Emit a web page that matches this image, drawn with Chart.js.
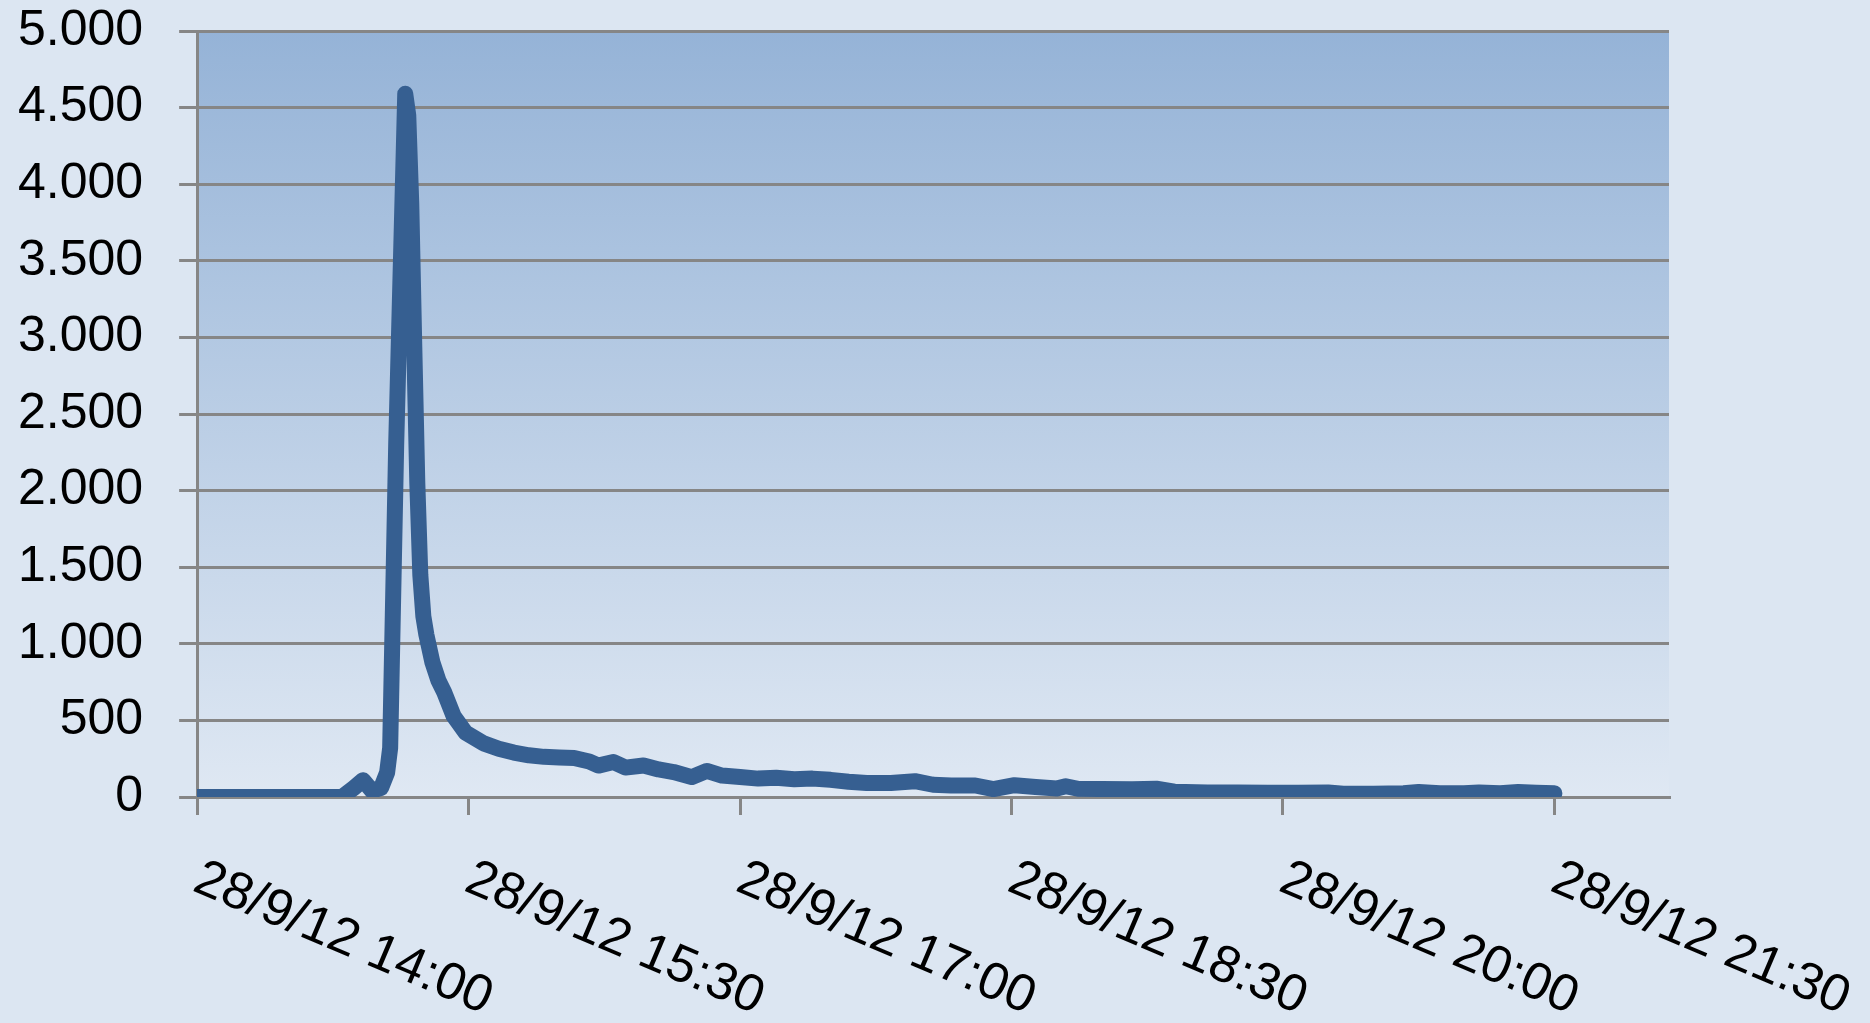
<!DOCTYPE html>
<html>
<head>
<meta charset="utf-8">
<script src="https://cdn.jsdelivr.net/npm/chart.js@4.4.1/dist/chart.umd.min.js"></script>
<style>
html,body{margin:0;padding:0;background:#DCE6F2;}
#wrap{width:1870px;height:1023px;position:relative;}
</style>
</head>
<body>
<div id="wrap"><canvas id="c"></canvas></div>
<script>
// Time of each reading (28/9/12), HH:MM
const times = ['14:00','14:10','14:20','14:30','14:40','14:48','14:52','14:55','14:58','15:01',
  '15:03','15:04','15:06','15:09','15:10','15:11','15:12','15:13','15:14','15:15',
  '15:16','15:18','15:20','15:22','15:25','15:29','15:35','15:40','15:45','15:50',
  '15:55','16:00','16:05','16:10','16:13','16:18','16:22','16:28','16:33','16:38',
  '16:44','16:49','16:54','17:00','17:06','17:12','17:18','17:24','17:30','17:36',
  '17:42','17:50','17:58','18:04','18:10','18:18','18:24','18:31','18:38','18:45',
  '18:48','18:52','19:00','19:10','19:18','19:24','19:35','19:45','19:55','20:05',
  '20:15','20:20','20:30','20:40','20:45','20:52','21:00','21:05','21:12','21:18',
  '21:24','21:30'];
// Reading values
const values = [0,0,0,0,0,0,60,110,40,60,
  160,320,2300,4590,4450,3870,2940,2050,1450,1180,
  1060,880,760,680,530,420,350,315,290,272,
  262,258,255,232,205,228,192,206,180,163,
  130,170,140,130,120,125,116,120,112,100,
  92,92,103,80,75,75,52,77,65,55,
  70,54,52,50,54,35,30,30,28,28,
  30,22,22,25,33,25,25,30,25,32,
  28,25];
// X axis tick labels
const tickLabels = ['28/9/12 14:00','28/9/12 15:30','28/9/12 17:00','28/9/12 18:30','28/9/12 20:00','28/9/12 21:30'];
const axisStart = '14:00';
const axisEnd = '22:08';
// Y axis
const yMin = 0, yMax = 5000, yStep = 500;

function toMin(t) {
  const [h, m] = t.split(' ').pop().split(':').map(Number);
  const [h0, m0] = axisStart.split(':').map(Number);
  return (h * 60 + m) - (h0 * 60 + m0);
}
const points = times.map((t, i) => ({ x: toMin(t), y: values[i] }));

const FONT = '"Liberation Sans", Arial, sans-serif';
const GRID = '#868686';

const bgPlugin = {
  id: 'bg',
  beforeDraw(chart) {
    const { ctx, chartArea: a, width, height } = chart;
    ctx.save();
    ctx.fillStyle = '#DCE6F2';
    ctx.fillRect(0, 0, width, height);
    const g = ctx.createLinearGradient(0, a.top, 0, a.bottom);
    g.addColorStop(0, '#95B3D7');
    g.addColorStop(1, '#DFE8F3');
    ctx.fillStyle = g;
    ctx.fillRect(a.left, a.top, a.right - a.left, a.bottom - a.top);
    ctx.restore();
  }
};

const xLabelPlugin = {
  id: 'xLabels',
  afterDraw(chart) {
    const xs = chart.scales.x;
    const ctx = chart.ctx;
    ctx.save();
    ctx.font = '52px ' + FONT;
    ctx.fillStyle = '#000000';
    ctx.textAlign = 'left';
    ctx.textBaseline = 'alphabetic';
    tickLabels.forEach((lab) => {
      const px = xs.getPixelForValue(toMin(lab));
      ctx.save();
      ctx.translate(px - 6, chart.chartArea.bottom + 93);
      ctx.rotate(23 * Math.PI / 180);
      ctx.fillText(lab, 0, 0);
      ctx.restore();
    });
    ctx.restore();
  }
};

new Chart(document.getElementById('c'), {
  type: 'line',
  data: {
    datasets: [{
      data: points,
      borderColor: '#365F91',
      borderWidth: 16,
      borderJoinStyle: 'round',
      borderCapStyle: 'round',
      pointRadius: 0,
      tension: 0,
      fill: false
    }]
  },
  options: {
    responsive: true,
    maintainAspectRatio: false,
    animation: false,
    layout: { padding: { left: 18, right: 201, top: 31, bottom: 208 } },
    plugins: { legend: { display: false }, tooltip: { enabled: false } },
    scales: {
      x: {
        type: 'linear',
        min: 0,
        max: toMin(axisEnd),
        border: { display: true, color: GRID, width: 3 },
        grid: { drawOnChartArea: false, drawTicks: true, tickLength: 18, color: GRID, lineWidth: 3 },
        ticks: {
          display: false,
          stepSize: 90,
          includeBounds: false
        }
      },
      y: {
        min: yMin,
        max: yMax,
        border: { display: true, color: GRID, width: 3 },
        grid: { color: GRID, lineWidth: 3, drawTicks: true, tickLength: 18 },
        ticks: {
          stepSize: yStep,
          padding: 36,
          color: '#000000',
          font: { family: FONT, size: 50 },
          callback: (v) => String(v).replace(/\B(?=(\d{3})+(?!\d))/g, '.')
        },
        afterFit(scale) {
          scale.width = scale.width - scale.options.ticks.padding;
          scale.paddingTop = 0;
          scale.paddingBottom = 0;
        }
      }
    }
  },
  plugins: [bgPlugin, xLabelPlugin]
});
</script>
</body>
</html>
